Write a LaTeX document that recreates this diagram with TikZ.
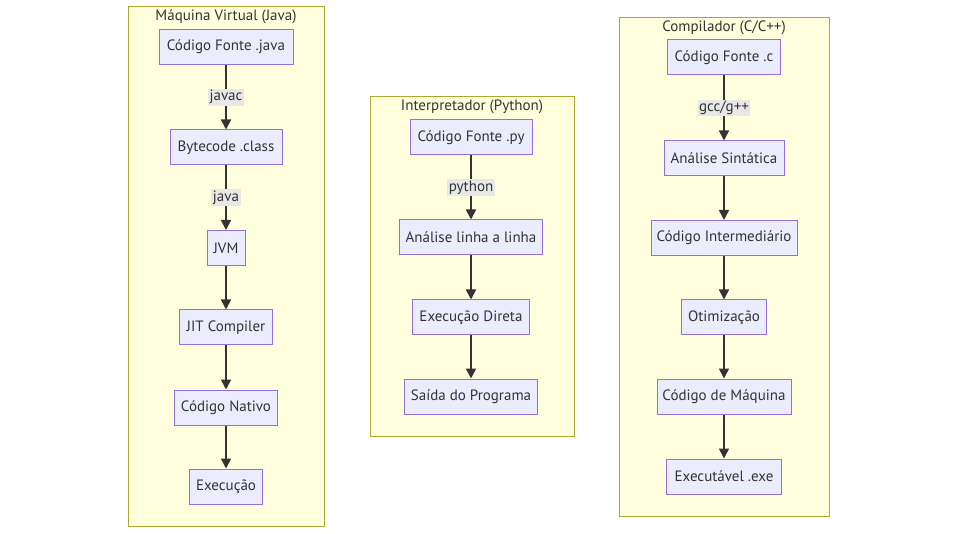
\documentclass[tikz,border=0pt]{standalone}
\usepackage{fontspec}
\setmainfont{PT Sans}
\usetikzlibrary{arrows.meta,positioning}
\definecolor{nodefill}{HTML}{ECECFF}
\definecolor{nodeline}{HTML}{9370DB}
\definecolor{clfill}{HTML}{FFFFDE}
\definecolor{clline}{HTML}{AAAA33}
\definecolor{txt}{HTML}{333333}
\definecolor{lblbg}{HTML}{E8E8E8}
\tikzset{
  box/.style={draw=nodeline, fill=nodefill, line width=1pt, minimum height=35pt, inner sep=0pt, text=txt, font=\fontsize{15}{17}\selectfont},
  cluster/.style={draw=clline, fill=clfill, line width=1pt, inner sep=0pt},
  cltitle/.style={text=txt, font=\fontsize{15}{17}\selectfont, inner sep=0pt},
  flow/.style={draw=txt, line width=1.6pt, -{Triangle[length=10pt,width=10pt]}},
  lbl/.style={fill=lblbg, text=txt, font=\fontsize{15}{17}\selectfont, inner sep=1.5pt}
}
\begin{document}
\begin{tikzpicture}[x=1pt,y=-1pt]
\useasboundingbox (0,0) rectangle (958,534);
% clusters
\node[cluster, minimum width=196pt, minimum height=519pt] (cj) at (226,266.5) {};
\node[cltitle] (tj) at (226,17) {Máquina Virtual (Java)};
\node[cluster, minimum width=204pt, minimum height=339pt] (cp) at (472,266.5) {};
\node[cltitle] (tp) at (472,107) {Interpretador (Python)};
\node[cluster, minimum width=210pt, minimum height=498pt] (cc) at (724,267) {};
\node[cltitle] (tc) at (724,28) {Compilador (C/C++)};
% Java
\node[box, minimum width=134pt] (j1) at (226,47) {Código Fonte .java};
\node[box, minimum width=112pt] (j2) at (226,147.5) {Bytecode .class};
\node[box, minimum width=38pt] (j3) at (226,248) {JVM};
\node[box, minimum width=93pt] (j4) at (226,327.5) {JIT Compiler};
\node[box, minimum width=103pt] (j5) at (226,407.5) {Código Nativo};
\node[box, minimum width=73pt] (j6) at (226,486.5) {Execução};
% Python
\node[box, minimum width=122pt] (p1) at (471,137.5) {Código Fonte .py};
\node[box, minimum width=143pt] (p2) at (471,237.5) {Análise linha a linha};
\node[box, minimum width=117pt] (p3) at (471,317.5) {Execução Direta};
\node[box, minimum width=133pt] (p4) at (471,396.5) {Saída do Programa};
% C
\node[box, minimum width=113pt] (c1) at (724,57.5) {Código Fonte .c};
\node[box, minimum width=120pt] (c2) at (724,158.5) {Análise Sintática};
\node[box, minimum width=146pt] (c3) at (724,238) {Código Intermediário};
\node[box, minimum width=85pt] (c4) at (724,317.5) {Otimização};
\node[box, minimum width=134pt] (c5) at (724,396.5) {Código de Máquina};
\node[box, minimum width=115pt] (c6) at (724,476.5) {Executável .exe};
% edges
\draw[flow] (j1) -- node[lbl] {javac} (j2);
\draw[flow] (j2) -- node[lbl] {java} (j3);
\draw[flow] (j3) -- (j4);
\draw[flow] (j4) -- (j5);
\draw[flow] (j5) -- (j6);
\draw[flow] (p1) -- node[lbl] {python} (p2);
\draw[flow] (p2) -- (p3);
\draw[flow] (p3) -- (p4);
\draw[flow] (c1) -- node[lbl] {gcc/g++} (c2);
\draw[flow] (c2) -- (c3);
\draw[flow] (c3) -- (c4);
\draw[flow] (c4) -- (c5);
\draw[flow] (c5) -- (c6);
\end{tikzpicture}
\end{document}
